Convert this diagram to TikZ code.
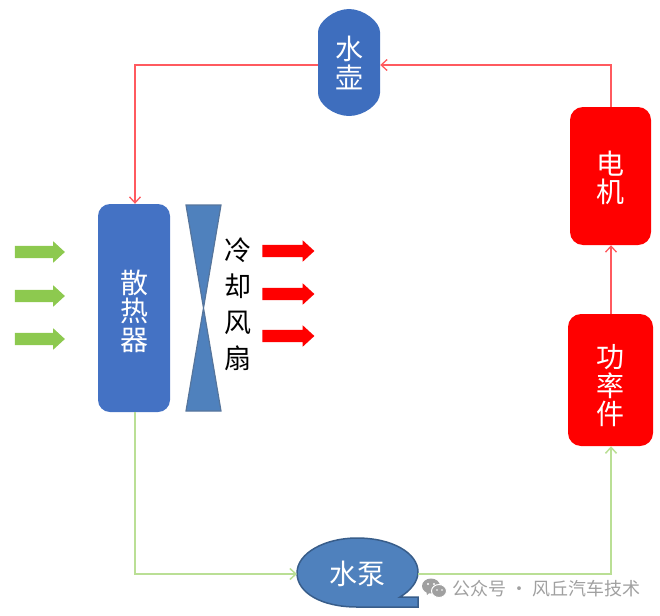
\documentclass[tikz,border=0pt]{standalone}
\usepackage{fontspec}
\setmainfont{Noto Sans CJK SC}
\newfontfamily\cjk{Noto Sans CJK SC}
\usetikzlibrary{arrows.meta,shapes.arrows}
\definecolor{blueA}{HTML}{4472C4}
\definecolor{blueB}{HTML}{4F81BD}
\definecolor{blueC}{HTML}{3E6EBE}
\definecolor{edgeB}{HTML}{385D8A}
\definecolor{lineR}{HTML}{FF5A5F}
\definecolor{lineG}{HTML}{BADF95}
\definecolor{fillG}{HTML}{8DC94F}
\definecolor{wm}{HTML}{A0A0A0}
\tikzset{
  unit/.style={inner sep=0pt,rounded corners=12pt},
  unittext/.style={font=\fontsize{28}{28.5}\selectfont\cjk,align=center,text=white,inner sep=0pt},
  redunit/.style={unit,fill=red,rounded corners=13pt},
  blueunit/.style={unit,fill=blueA},
  holder/.style={inner sep=0pt,outer sep=0pt,minimum width=#1},
  redline/.style={draw=lineR,line width=1.5pt,-{Straight Barb[length=6pt,width=11pt,line width=1.3pt]}},
  greenline/.style={draw=lineG,line width=1.8pt,-{Straight Barb[length=6pt,width=11pt,line width=1.5pt]}},
  flow/.style={single arrow,minimum height=50pt,text width=0pt,text height=12pt,text depth=0pt,single arrow head extend=4.5pt,single arrow tip angle=85,inner sep=0pt,outer sep=0pt},
  greenflow/.style={flow,fill=fillG},
  redflow/.style={flow,fill=red},
  fantext/.style={font=\fontsize{27}{36}\selectfont\cjk,align=center,inner sep=0pt}
}
\begin{document}
\begin{tikzpicture}[x=1pt,y=1pt]
\useasboundingbox (0,0) rectangle (660,-615);
% kettle
\fill[blueC] (318,-32) .. controls (318,-22) and (334,-9) .. (349,-9) .. controls (364,-9) and (380,-22) .. (380,-32) -- (380,-93) .. controls (380,-104) and (364,-116) .. (349,-116) .. controls (334,-116) and (318,-104) .. (318,-93) -- cycle;
\node[inner sep=0pt,minimum width=62pt,minimum height=107pt] (kettle) at (349,-62.5) {};
\node[unittext] (kettletext) at (349,-63) {水\\壶};
% units
\node[redunit,minimum width=81pt,minimum height=138pt] (motor) at (610.5,-176) {};
\node[unittext] (motortext) at (610.5,-178) {电\\机};
\node[redunit,minimum width=85pt,minimum height=132pt] (power) at (610.5,-380) {};
\node[unittext] (powertext) at (610.5,-386) {功\\率\\件};
\node[blueunit,minimum width=72pt,minimum height=208pt] (rad) at (134,-308) {};
\node[unittext] (radtext) at (134,-311) {散\\热\\器};
% fan
\draw[fill=blueB,draw=edgeB!85,line width=1.2pt,line join=miter] (186,-205) -- (221,-205) -- (186,-411) -- (221,-411) -- cycle;
\node[fantext] (fanlabel) at (238,-304) {冷\\却\\风\\扇};
% pump
\draw[fill=blueB,draw=edgeB,line width=1.5pt,line join=miter]
  (418,-607) -- (357,-607) .. controls (322,-607) and (297,-593) .. (297,-573)
  .. controls (297,-553) and (325,-538) .. (357,-538)
  .. controls (392,-538) and (418,-553) .. (418,-572)
  .. controls (418,-582) and (410,-591) .. (400,-597) -- (418,-597) -- cycle;
\node[holder=121pt,minimum height=50pt,font=\fontsize{28}{28}\selectfont\cjk,text=white] (pump) at (357.5,-574) {水泵};
% connectors
\coordinate (c1) at (135,-65);
\coordinate (c2) at (611,-65);
\coordinate (c3) at (135,-574);
\coordinate (c4) at (611,-574);
\draw[redline] (kettle.west |- c1) -- (c1) -- (c1 |- rad.north);
\draw[redline] (c2 |- motor.north) -- (c2) -- (kettle.east |- c2);
\draw[redline] (power.north -| c2) -- (motor.south -| c2);
\draw[greenline] (rad.south -| c3) -- (c3) -- (pump.west |- c3);
\draw[greenline] (pump.east |- c4) -- (c4) -- (c4 |- power.south);
% flow arrows
\node[greenflow] (g1) at (36.5,-252) {};
\node[greenflow] (g2) at (36.5,-296) {};
\node[greenflow] (g3) at (36.5,-339) {};
\node[redflow,minimum height=52pt] (r1) at (285,-251) {};
\node[redflow,minimum height=52pt] (r2) at (285,-294) {};
\node[redflow,minimum height=52pt] (r3) at (285,-336) {};
% watermark
\fill[wm] (431,-586) ellipse (9pt and 7.5pt);
\fill[wm] (427,-595) -- (426,-590) -- (430,-592) -- cycle;
\draw[white,fill=wm,line width=1pt] (439,-591) ellipse (7.5pt and 6.5pt);
\fill[white] (428,-584) circle (1.1pt) (434,-584) circle (1.1pt) (437,-590) circle (.9pt) (442,-590) circle (.9pt);
\node[anchor=west,inner sep=0pt,text=wm,font=\fontsize{18}{19}\selectfont\cjk] (mark) at (452,-589) {公众号 · 风丘汽车技术};
\end{tikzpicture}
\end{document}
